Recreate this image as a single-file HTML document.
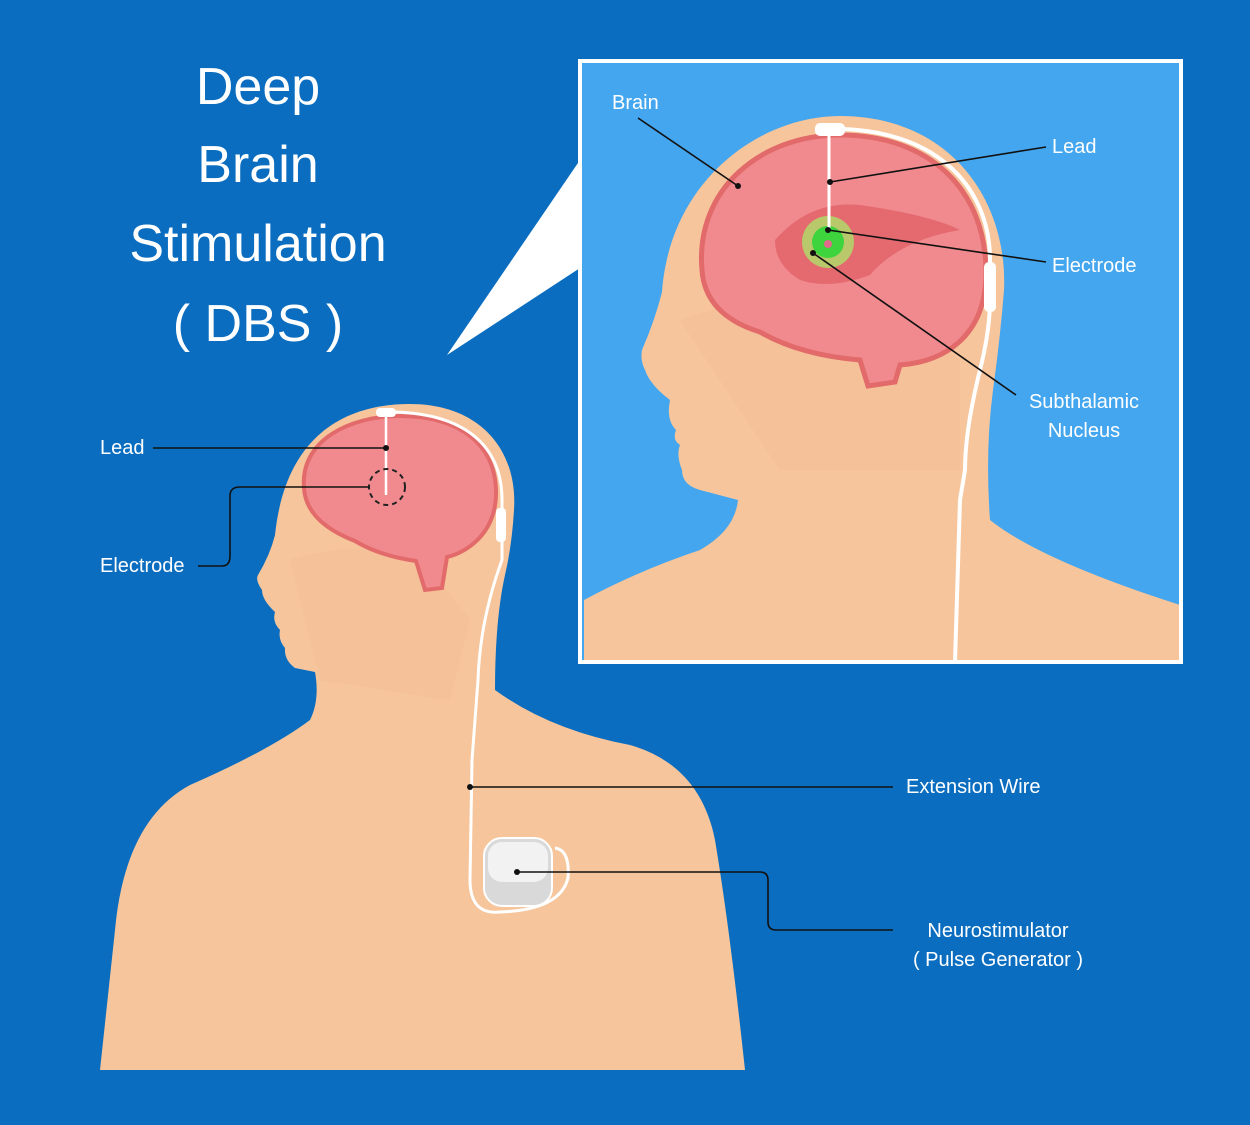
<!DOCTYPE html>
<html><head><meta charset="utf-8"><style>
html,body{margin:0;padding:0;background:#0a6dbf;}
svg{display:block}
text{font-family:"Liberation Sans",sans-serif;fill:#fff}
</style></head><body>
<svg width="1250" height="1125" viewBox="0 0 1250 1125" xmlns="http://www.w3.org/2000/svg">
<rect width="1250" height="1125" fill="#0a6dbf"/>
<!-- title -->
<g font-size="52" text-anchor="middle">
<text x="258" y="104">Deep</text>
<text x="258" y="182">Brain</text>
<text x="258" y="261">Stimulation</text>
<text x="258" y="341">( DBS )</text>
</g>
<!-- callout -->
<polygon points="580,160 580,268 447,355" fill="#fff"/>
<!-- inset -->
<rect x="580" y="61" width="601" height="601" fill="#44a6ee" stroke="#fff" stroke-width="4"/>
<clipPath id="ic"><rect x="582" y="63" width="597" height="597"/></clipPath>
<g clip-path="url(#ic)">
<path d="M584 600 Q640 570 700 550 Q735 530 738 500 L700 490 Q682 485 682 470 Q676 455 680 445 Q672 440 676 430 Q666 420 670 400 Q650 385 645 370 Q640 360 642 350 Q655 320 662 292 C670 180 760 116 840 116 C950 116 1008 200 1004 290 Q1000 340 993 390 Q985 450 990 520 Q1040 560 1180 605 L1180 662 L584 662 Z" fill="#f6c59b"/>
<path d="M680 320 Q760 290 880 300 L960 360 L960 470 L780 470 Z" fill="#f0b892" opacity="0.3"/>
<path d="M702 270 C695 190 760 135 840 135 C930 135 985 190 986 270 C987 340 940 362 900 365 L895 382 L868 386 L860 360 Q800 355 760 332 Q705 315 702 270 Z" fill="#f08a8e" stroke="#e26a6a" stroke-width="5"/>
<path d="M775 240 Q810 200 860 205 Q930 215 960 230 Q900 240 870 275 Q830 290 800 280 Q775 265 775 240Z" fill="#e56a70"/>
<circle cx="828" cy="242" r="26" fill="#b8c86a"/>
<circle cx="828" cy="242" r="16" fill="#3dd43d"/>
<circle cx="828" cy="244" r="4" fill="#e06a8a"/>
<line x1="829" y1="132" x2="829" y2="230" stroke="#fff" stroke-width="3"/>
<rect x="815" y="123" width="30" height="13" rx="5" fill="#fff"/>
<path d="M842 129 C940 132 990 190 990 260 L990 300 Q990 330 980 370 Q965 430 965 470 L960 500 L955 662" fill="none" stroke="#fff" stroke-width="4"/>
<rect x="984" y="262" width="12" height="50" rx="5" fill="#fff"/>
</g>
<!-- inset labels -->
<g font-size="20">
<text x="612" y="109">Brain</text>
<text x="1052" y="153">Lead</text>
<text x="1052" y="272">Electrode</text>
<text x="1084" y="408" text-anchor="middle">Subthalamic</text>
<text x="1084" y="437" text-anchor="middle">Nucleus</text>
</g>
<g stroke="#111" stroke-width="1.6" fill="none">
<line x1="638" y1="118" x2="738" y2="186"/>
<line x1="830" y1="182" x2="1046" y2="147"/>
<line x1="828" y1="230" x2="1046" y2="262"/>
<line x1="813" y1="253" x2="1016" y2="395"/>
</g>
<g fill="#111"><circle cx="738" cy="186" r="3"/><circle cx="830" cy="182" r="3"/><circle cx="828" cy="230" r="3"/><circle cx="813" cy="253" r="3"/></g>
<!-- main body -->
<path d="M100 1070 L115 930 Q125 820 190 785 Q270 750 310 720 Q320 700 315 672 L295 668 Q284 660 285 648 Q278 640 280 630 Q272 622 275 612 Q262 600 262 590 Q255 580 258 575 Q270 555 275 535 C285 440 340 404 410 404 C480 404 518 450 514 510 Q512 545 505 575 Q495 620 495 690 Q550 730 630 745 Q700 765 715 840 Q730 930 745 1070 Z" fill="#f6c59b"/>
<path d="M290 560 Q350 540 420 555 L470 620 L450 700 L320 680 Z" fill="#f0b892" opacity="0.3"/>
<path d="M304 488 C300 440 350 416 400 416 C460 416 497 445 496 495 C495 535 465 553 447 557 L442 588 L425 590 L416 561 Q380 556 355 541 Q306 522 304 488Z" fill="#f08a8e" stroke="#e26a6a" stroke-width="4"/>
<line x1="386" y1="415" x2="386" y2="495" stroke="#fff" stroke-width="2.5"/>
<rect x="376" y="408" width="20" height="9" rx="4" fill="#fff"/>
<circle cx="387" cy="487" r="18" fill="none" stroke="#222" stroke-width="2" stroke-dasharray="5,4"/>
<path d="M394 412 C470 414 502 450 502 500 L502 560 Q480 620 478 680 L472 760 L470 880 Q470 915 500 912 Q560 910 568 878 Q570 850 555 848" fill="none" stroke="#fff" stroke-width="3"/>
<rect x="496" y="508" width="10" height="34" rx="4" fill="#fff"/>
<!-- device -->
<rect x="484" y="838" width="68" height="68" rx="18" fill="#d9d9d9" stroke="#fff" stroke-width="2"/>
<rect x="488" y="842" width="60" height="40" rx="14" fill="#f2f2f2"/>
<!-- main labels -->
<g font-size="20">
<text x="100" y="454">Lead</text>
<text x="100" y="572">Electrode</text>
<text x="906" y="793">Extension Wire</text>
<text x="998" y="937" text-anchor="middle">Neurostimulator</text>
<text x="998" y="966" text-anchor="middle">( Pulse Generator )</text>
</g>
<g stroke="#111" stroke-width="1.6" fill="none">
<line x1="153" y1="448" x2="386" y2="448"/>
<path d="M198 566 L222 566 Q230 566 230 556 L230 496 Q230 487 240 487 L369 487"/>
<line x1="470" y1="787" x2="893" y2="787"/>
<path d="M517 872 L760 872 Q768 872 768 880 L768 922 Q768 930 776 930 L893 930"/>
</g>
<g fill="#111"><circle cx="386" cy="448" r="3"/><circle cx="470" cy="787" r="3"/><circle cx="517" cy="872" r="3"/></g>
</svg>
</body></html>
